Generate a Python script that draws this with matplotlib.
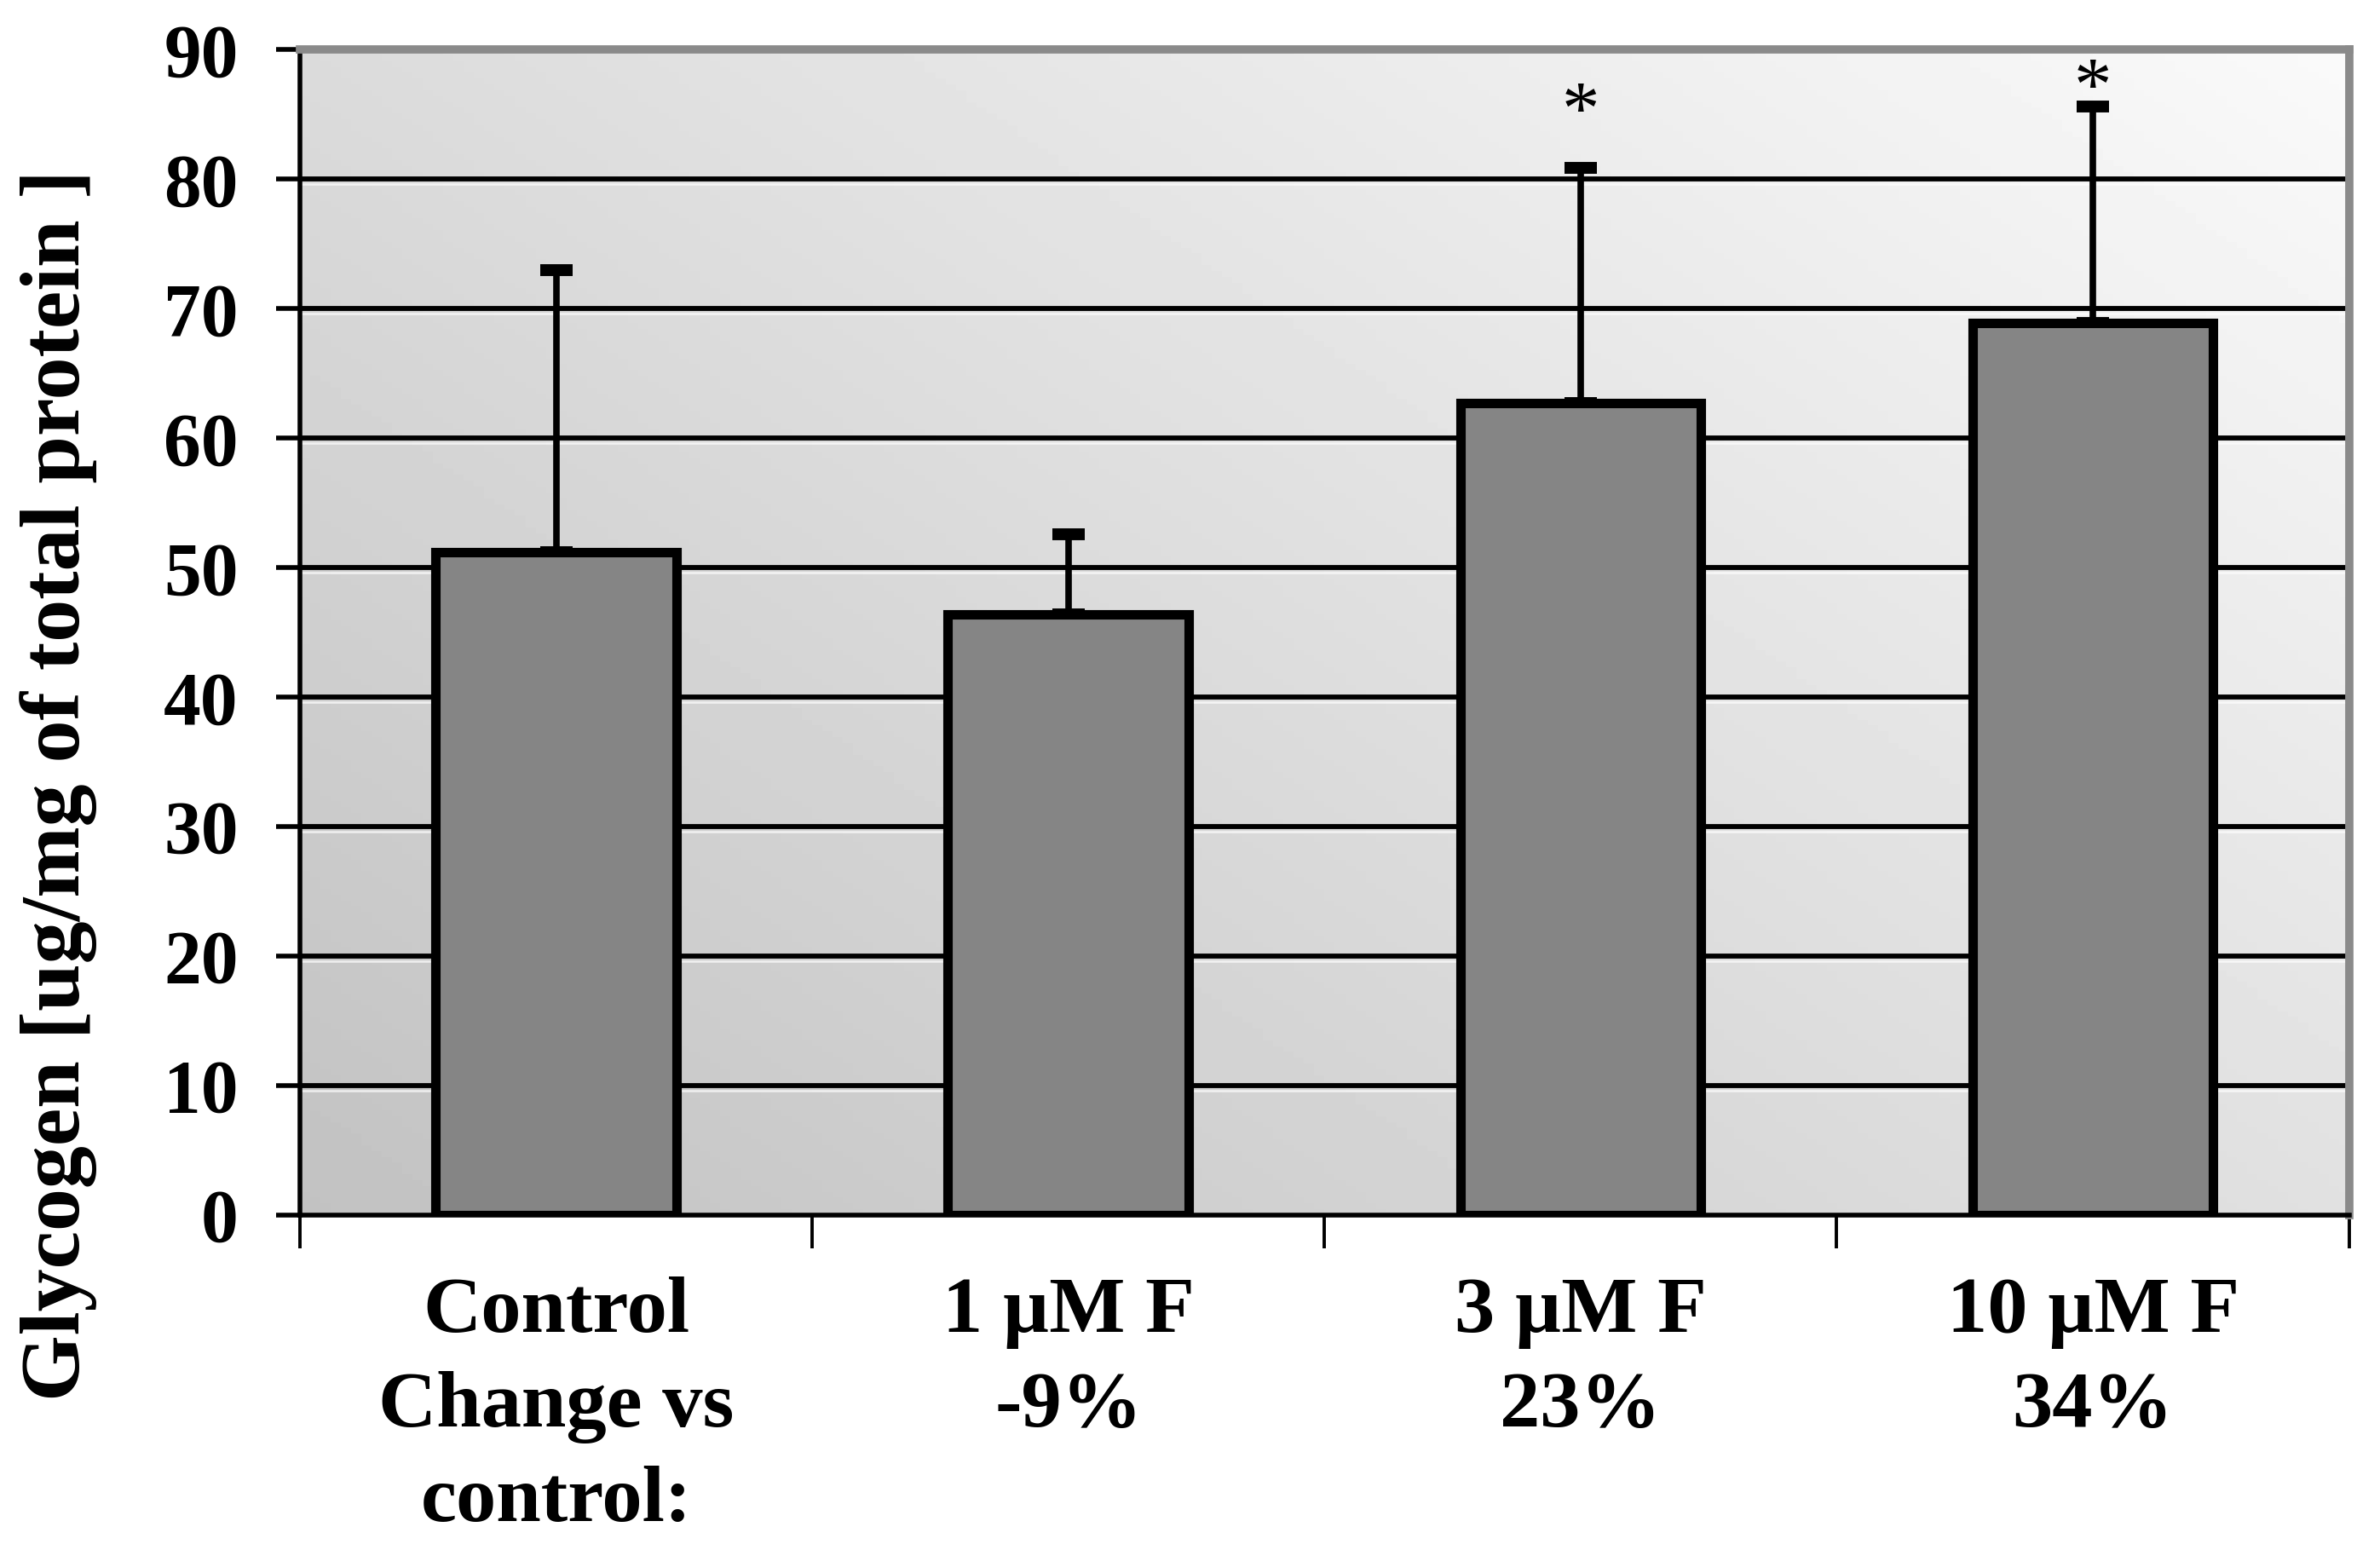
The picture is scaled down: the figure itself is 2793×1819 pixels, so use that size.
import numpy as np
import matplotlib.pyplot as plt

# values
categories = ['Control\nChange vs\ncontrol:', '1 \u00b5M F\n-9%', '3 \u00b5M F\n23%', '10 \u00b5M F\n34%']
glycogen = [51.2, 46.4, 62.7, 68.9]
err_upper = [21.8, 6.2, 18.2, 16.7]
star_y = [None, None, 85.0, 86.8]   # where the "*" marks sit

plt.rcParams['font.family'] = ['Liberation Serif', 'DejaVu Serif']
plt.rcParams['font.weight'] = 'bold'

fig = plt.figure(figsize=(27.93, 18.19), dpi=100)
ax = fig.add_axes([0.126, 0.216, 0.861, 0.752])

x = np.arange(len(categories))
ax.set_xlim(-0.5, len(categories) - 0.5)
ax.set_ylim(0, 90)

# gradient background (darker bottom-left, lighter top-right)
gx, gy = np.meshgrid(np.linspace(0, 1, 200), np.linspace(0, 1, 200))
grad = 0.76 + 0.22 * (0.55 * gx + 0.45 * gy)
ax.imshow(grad, cmap='gray', vmin=0, vmax=1, origin='lower', aspect='auto',
          extent=[-0.5, len(categories) - 0.5, 0, 90], zorder=0)

# horizontal grid lines with a faint white highlight under each
for yv in range(10, 90, 10):
    ax.axhline(yv, color='black', lw=4.2, zorder=1)
    ax.axhline(yv - 0.4, color='white', lw=1.8, alpha=0.7, zorder=1)

ax.bar(x, glycogen, width=0.47, color='#858585', edgecolor='black', linewidth=8, zorder=3)
ax.errorbar(x, glycogen, yerr=[np.zeros(len(x)), err_upper], fmt='none', ecolor='black',
            elinewidth=5.5, capsize=14, capthick=10, zorder=2)

for xi, sy in zip(x, star_y):
    if sy is not None:
        ax.text(xi, sy, '*', ha='center', va='center', fontsize=64, fontweight='normal')

# spines
ax.spines['left'].set_color('black')
ax.spines['left'].set_linewidth(4)
ax.spines['bottom'].set_color('black')
ax.spines['bottom'].set_linewidth(4)
ax.spines['top'].set_color('#8a8a8a')
ax.spines['top'].set_linewidth(7)
ax.spines['right'].set_color('#8a8a8a')
ax.spines['right'].set_linewidth(7)

ax.set_yticks(range(0, 91, 10))
ax.tick_params(axis='y', direction='out', length=20, width=4, labelsize=63, pad=32)
ax.set_xticks(np.arange(-0.5, len(categories), 1.0))
ax.set_xticklabels([])
ax.tick_params(axis='x', direction='out', length=28, width=2.8)
ax.set_xticks(x, minor=True)
ax.set_xticklabels(categories, minor=True, fontsize=68, linespacing=1.4)
ax.tick_params(axis='x', which='minor', length=0, pad=52)

ax.set_ylabel('Glycogen [ug/mg of total protein ]', fontsize=72, fontweight='bold')
ax.yaxis.set_label_coords(-0.099, 0.369)

fig.savefig('out.png', dpi=100)
